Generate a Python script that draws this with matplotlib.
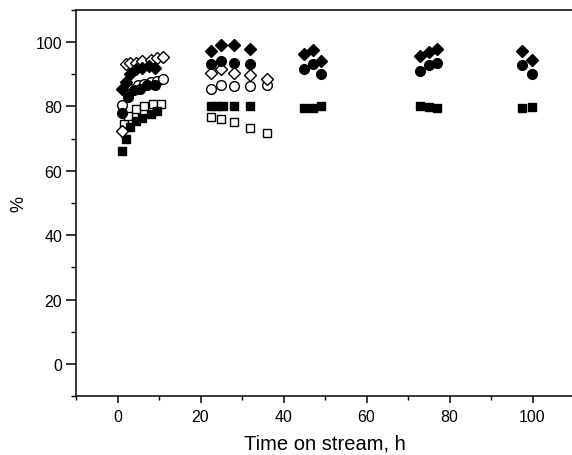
import numpy as np
import matplotlib
matplotlib.use("Agg")
import matplotlib.pyplot as plt
from matplotlib.ticker import MultipleLocator

plt.rcParams['font.family'] = ['Liberation Sans', 'DejaVu Sans']

# filled diamonds
fd_x = [1, 2, 3, 4.5, 6, 7.5, 9, 22.5, 25, 28, 32, 45, 47, 49, 73, 75, 77, 97.5, 99.8]
fd_y = [85.5, 87.5, 90, 91.5, 92, 92.5, 92, 97.3, 98.9, 99.1, 97.8, 96.3, 97.5, 94, 95.6, 97, 97.8, 97.3, 94.3]
# filled circles
fc_x = [1, 2.5, 4, 5.5, 7, 9, 22.5, 25, 28, 32, 45, 47, 49, 73, 75, 77, 97.5, 99.8]
fc_y = [78, 83, 85, 85.5, 86.5, 86.5, 93, 94, 93.5, 93, 91.6, 93.2, 90.1, 91.1, 92.7, 93.4, 92.9, 90.1]
# open diamonds
od_x = [1, 2, 3, 4.5, 6, 8, 9.5, 11, 22.5, 25, 28, 32, 36]
od_y = [72.5, 93, 93.5, 93.5, 94, 94.5, 95, 95.2, 90.5, 91.6, 90.4, 89.6, 88.5]
# open circles
oc_x = [1, 3.5, 5, 6.5, 8, 9.5, 11, 22.5, 25, 28, 32, 36]
oc_y = [80.5, 85.5, 86.5, 87, 87.5, 88, 88.5, 85.4, 86.6, 86.4, 86.4, 86.5]
# filled squares
fs_x = [1, 2, 3, 4.5, 6, 8, 9.5, 22.5, 24, 25.5, 28, 32, 45, 47, 49, 73, 75, 77, 97.5, 99.8]
fs_y = [66, 70, 73.5, 75.5, 76.5, 77.5, 78.5, 80, 80, 80, 80, 80, 79.6, 79.6, 80.2, 80, 79.8, 79.5, 79.4, 79.8]
# open squares
os_x = [1.5, 2.5, 4.5, 6.5, 8.5, 10.5, 22.5, 25, 28, 32, 36]
os_y = [74.5, 77, 79.3, 80.2, 80.7, 80.7, 76.6, 76, 75, 73.4, 71.8]

fig = plt.figure(figsize=(5.72, 4.56), dpi=100)
ax = fig.add_axes([76/572, 1 - 397.3/456, (574 - 76)/572, (397.3 - 10.7)/456])

ax.plot(os_x, os_y, 's', ms=6.4, mfc='white', mec='black', mew=1.0, ls='none')
ax.plot(fs_x, fs_y, 's', ms=6.4, mfc='black', mec='black', ls='none')
ax.plot(oc_x, oc_y, 'o', ms=7.0, mfc='white', mec='black', mew=1.0, ls='none')
ax.plot(od_x, od_y, 'D', ms=6.3, mfc='white', mec='black', mew=1.0, ls='none')
ax.plot(fc_x, fc_y, 'o', ms=7.0, mfc='black', mec='black', ls='none')
ax.plot(fd_x, fd_y, 'D', ms=6.3, mfc='black', mec='black', ls='none')

ax.set_xlim(-10, 110)
ax.set_ylim(-10, 110)
ax.xaxis.set_minor_locator(MultipleLocator(10))
ax.yaxis.set_minor_locator(MultipleLocator(10))
ax.set_xticks([0, 20, 40, 60, 80, 100])
ax.set_yticks([0, 20, 40, 60, 80, 100])

for s in ax.spines.values():
    s.set_linewidth(1.1)
ax.spines['right'].set_visible(False)

ax.tick_params(axis='x', which='major', direction='out', length=5, width=1.1, labelsize=11.5, pad=4)
ax.tick_params(axis='x', which='minor', direction='out', length=3, width=1.0)
ax.tick_params(axis='y', which='major', direction='out', length=7, width=1.1, labelsize=11.5, pad=3)
ax.tick_params(axis='y', which='minor', direction='out', length=3.5, width=1.0)

ax.set_xlabel('Time on stream, h', fontsize=14.5, labelpad=7)
ax.set_ylabel('%', fontsize=13, labelpad=6)

fig.savefig('out.png', dpi=100)
